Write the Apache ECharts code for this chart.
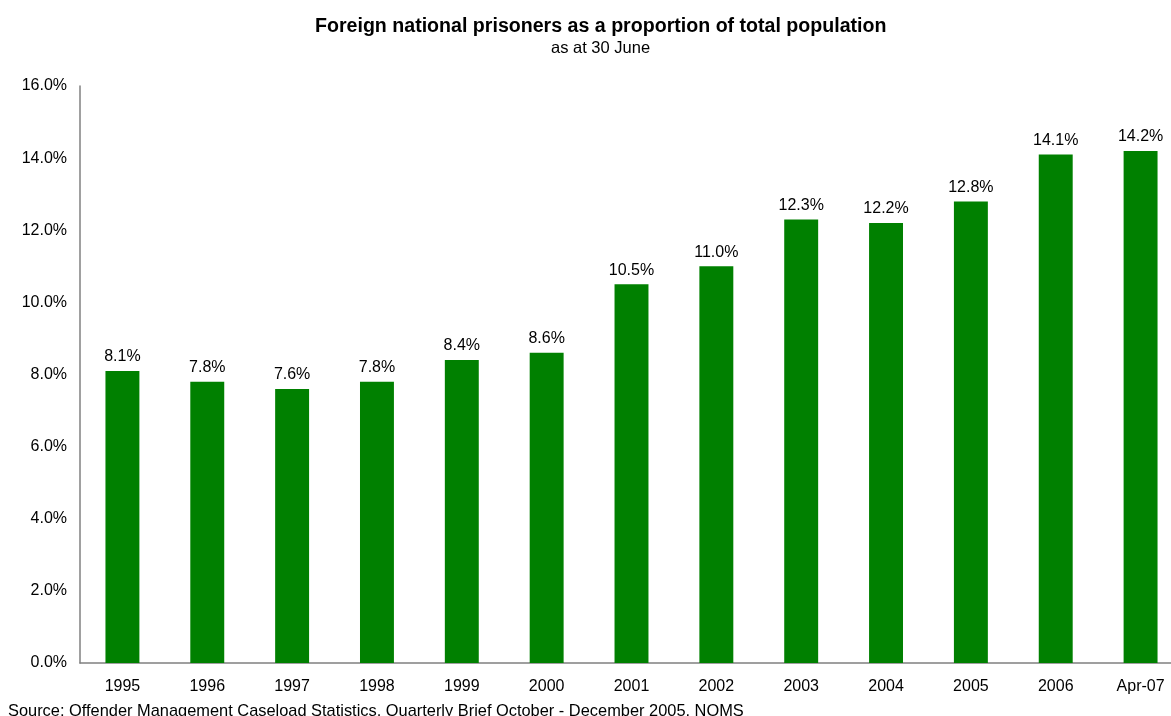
<!DOCTYPE html>
<html><head><meta charset="utf-8">
<script src="https://cdn.jsdelivr.net/npm/echarts@6/dist/echarts.min.js"></script>
<style>html,body{margin:0;padding:0;background:#fff;overflow:hidden;width:1171px;height:716px}#c{width:1183px;height:716px}</style>
</head><body><div id="c"></div>
<script>
const categories = ['1995','1996','1997','1998','1999','2000','2001','2002','2003','2004','2005','2006','Apr-07'];
const values = [8.1,7.8,7.6,7.8,8.4,8.6,10.5,11.0,12.3,12.2,12.8,14.1,14.2];
const chart = echarts.init(document.getElementById('c'));
const F = '"Liberation Sans", Arial, sans-serif';
chart.setOption({
  animation:false,
  title:[
    {text:'Foreign national prisoners as a proportion of total population',left:310,top:12,
     textStyle:{fontFamily:F,fontSize:19.6,fontWeight:'bold',color:'#000'}},
    {text:'as at 30 June',left:546,top:35,textStyle:{fontFamily:F,fontSize:16.5,fontWeight:'normal',color:'#000'}},
    {text:'Source: Offender Management Caseload Statistics, Quarterly Brief October - December 2005, NOMS',left:3,top:698,
     textStyle:{fontFamily:F,fontSize:16.4,fontWeight:'normal',color:'#000'}}
  ],
  grid:{left:80,right:0,top:86,bottom:53,containLabel:false},
  xAxis:{type:'category',data:categories,
    axisLine:{lineStyle:{color:'#808080',width:1.5}},axisTick:{show:false},
    axisLabel:{fontFamily:F,fontSize:16,color:'#000',margin:16}},
  yAxis:{type:'value',min:0,max:16,interval:2,
    axisLine:{show:true,lineStyle:{color:'#808080',width:1.5}},axisTick:{show:false},splitLine:{show:false},
    axisLabel:{fontFamily:F,fontSize:16,color:'#000',margin:13,formatter:v=>v.toFixed(1)+'%'}},
  series:[{type:'bar',data:values,barWidth:'40%',itemStyle:{color:'#008000'},
    label:{show:true,position:'top',distance:6,fontFamily:F,fontSize:16,color:'#000',formatter:p=>p.value.toFixed(1)+'%'}}]
});
</script></body></html>
